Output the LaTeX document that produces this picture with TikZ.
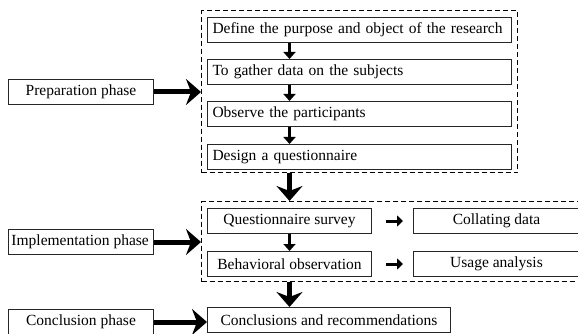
\documentclass[tikz,border=0pt]{standalone}
\usepackage{fontspec}
\setmainfont{Liberation Serif}
\usetikzlibrary{arrows.meta,positioning}

\begin{document}
\begin{tikzpicture}[x=1pt,y=-1pt,font=\fontsize{15.5}{17}\selectfont,
    stepbox/.style={draw=black!85,line width=1pt,anchor=north west,minimum height=25pt,inner xsep=5pt,inner ysep=0pt},
    phasebox/.style={draw=black!85,line width=1pt,anchor=north west,minimum width=145pt,minimum height=25pt,inner sep=0pt},
    groupbox/.style={draw,dash pattern=on 5pt off 3pt,line width=1.1pt,anchor=north west,inner sep=0pt},
    bigarrow/.style={line width=5pt,-{Stealth[length=15pt,width=26pt,inset=5pt]}},
    smallarrow/.style={line width=2.4pt,-{Triangle[length=7pt,width=12pt]}},
    sidearrow/.style={line width=3pt,-{Triangle[length=6pt,width=11pt]}}]

  \useasboundingbox (0,0) rectangle (578,334);

  % Preparation phase
  \node[groupbox,minimum width=316pt,minimum height=162pt] (prepgroup) at (201,10) {};
  \node[stepbox,text width=294pt,align=left] (define) at (207,17) {Define the purpose and object of the research};
  \node[stepbox,text width=294pt,align=left] (gather) at (207,59) {To gather data on the subjects};
  \node[stepbox,text width=294pt,align=left] (observe) at (207,101) {Observe the participants};
  \node[stepbox,text width=294pt,align=left] (design) at (207,144) {Design a questionnaire};
  \node[phasebox] (prepphase) at (8,79) {Preparation phase};

  % Implementation phase
  \node[groupbox,minimum width=382pt,minimum height=80pt] (implgroup) at (201,201) {};
  \node[stepbox,minimum width=164pt] (survey) at (207,208) {Questionnaire survey};
  \node[stepbox,minimum width=164pt] (behav) at (207,251) {Behavioral observation};
  \node[stepbox,minimum width=166pt] (collate) at (413,208) {Collating data};
  \node[stepbox,minimum width=166pt] (usage) at (413,251) {Usage analysis};
  \node[phasebox] (implphase) at (8,229) {\makebox[141pt][l]{\hspace{1pt}Implementation phase}};

  % Conclusion phase
  \node[stepbox,minimum width=243pt] (concl) at (207,307) {Conclusions and recommendations};
  \node[phasebox] (conclphase) at (8,309) {Conclusion phase};

  % Arrows inside the first group
  \draw[smallarrow] (define.south -| survey.south) -- (gather.north -| survey.north);
  \draw[smallarrow] (gather.south -| survey.south) -- (observe.north -| survey.north);
  \draw[smallarrow] (observe.south -| survey.south) -- (design.north -| survey.north);

  % Arrows inside the second group
  \draw[smallarrow] (survey) -- (behav);
  \draw[sidearrow,shorten <=14pt,shorten >=10pt] (survey) -- (collate);
  \draw[sidearrow,shorten <=14pt,shorten >=10pt] (behav) -- (usage);

  % Between groups
  \draw[bigarrow] (prepgroup.south -| survey.north) -- (implgroup.north -| survey.north);
  \draw[bigarrow] (implgroup.south -| survey.south) -- (concl.north -| survey.north);

  % From phases
  \draw[bigarrow] (prepphase.east) -- (prepgroup.west |- prepphase.east);
  \draw[bigarrow] (implphase.east) -- (implgroup.west |- implphase.east);
  \draw[bigarrow] (conclphase.east) -- (concl.west |- conclphase.east);

\end{tikzpicture}
\end{document}
